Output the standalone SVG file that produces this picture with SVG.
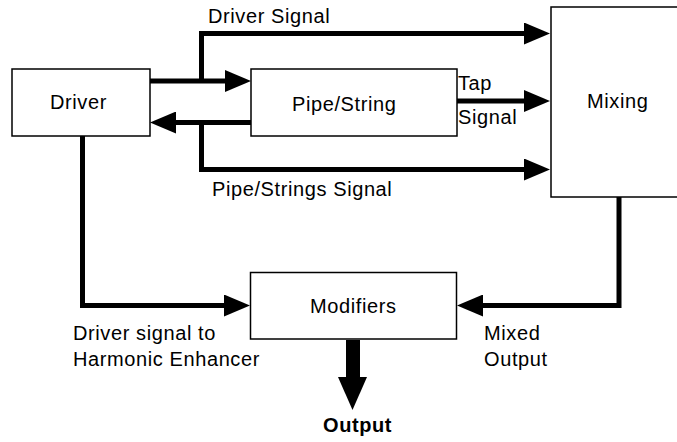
<svg xmlns="http://www.w3.org/2000/svg" width="677" height="442" viewBox="0 0 677 442">
<style>
.box{fill:#fff;stroke:#000;stroke-width:1.5}
.lbl{font-family:"Liberation Sans",Arial,sans-serif;font-size:20px;letter-spacing:0.6px;fill:#000}
.bold{font-weight:bold}
.con{fill:none;stroke:#000;stroke-width:5;stroke-linejoin:miter}
.arr{marker-end:url(#ah)}
</style>
<defs>
<marker id="ah" markerUnits="userSpaceOnUse" markerWidth="26" markerHeight="22" refX="16" refY="11" orient="auto">
<path d="M0,0 L26,11 L0,22 z" fill="#000"/>
</marker>
</defs>
<rect width="677" height="442" fill="#fff"/>
<g id="connectors">
<path class="con arr" d="M150,81 H241"/>
<path class="con arr" d="M201.5,83 V33.5 H540"/>
<path class="con arr" d="M251,122.5 H160"/>
<path class="con arr" d="M201.5,122.5 V169.5 H540"/>
<path class="con arr" d="M457,101 H540"/>
<path class="con arr" d="M619,197 V305.5 H467"/>
<path class="con arr" d="M82.5,136 V305.5 H240"/>
<g id="output-arrow">
<rect x="346" y="340" width="14" height="40" fill="#000"/>
<polygon points="338,377 367,377 352.5,410" fill="#000"/>
</g>
</g>
<g id="driver">
<rect class="box" x="12" y="69" width="138" height="67"/>
<text class="lbl" x="50" y="109">Driver</text>
</g>
<g id="pipe-string">
<rect class="box" x="251" y="69" width="206" height="67"/>
<text class="lbl" x="292" y="111">Pipe/String</text>
</g>
<g id="mixing">
<rect class="box" x="551" y="7" width="135" height="190"/>
<text class="lbl" x="587" y="108">Mixing</text>
</g>
<g id="modifiers">
<rect class="box" x="250.5" y="272.5" width="206" height="66.5"/>
<text class="lbl" x="310" y="313">Modifiers</text>
</g>
<g id="labels">
<text class="lbl" x="208" y="23">Driver Signal</text>
<text class="lbl" x="212" y="196">Pipe/Strings Signal</text>
<text class="lbl" x="458" y="90">Tap</text>
<text class="lbl" x="458" y="124">Signal</text>
<text class="lbl" x="73" y="340">Driver signal to</text>
<text class="lbl" x="73" y="366">Harmonic Enhancer</text>
<text class="lbl" x="484" y="340">Mixed</text>
<text class="lbl" x="484" y="366">Output</text>
<text class="lbl bold" x="323" y="432">Output</text>
</g>
</svg>
